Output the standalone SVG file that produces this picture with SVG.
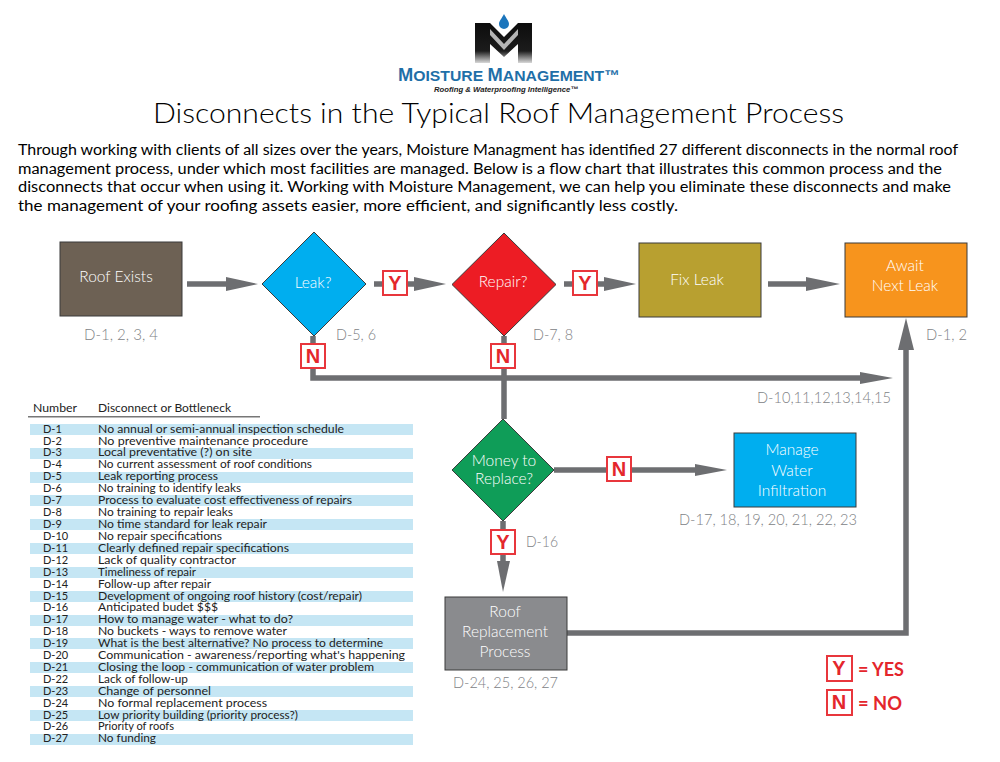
<svg xmlns="http://www.w3.org/2000/svg" width="1000" height="762" viewBox="0 0 1000 762">
<style>
text{font-family:"Lato","Liberation Sans",sans-serif}
.box{stroke:#3a3a3a;stroke-width:1}
.nt{fill:#fff;font-size:15.5px;text-anchor:middle;font-weight:300}
.lb{fill:#808285;font-size:15.5px;font-weight:300}
.p{fill:#000;font-size:15.5px}
.c{fill:none;stroke:#6d6e71;stroke-width:5.500}
.h{fill:#6d6e71}
.t{fill:#222;font-size:11px}
.s{fill:#c5e6f4}
.tag{fill:#fff;stroke:#e8363c;stroke-width:2}
.tt{fill:#e4262c;font-family:"Liberation Sans",sans-serif;font-weight:700;font-size:20px;text-anchor:middle}
</style>
<rect width="1000" height="762" fill="#fff"/>
<g id="logo">
<defs><linearGradient id="lg" x1="0" y1="0" x2="0" y2="1"><stop offset="0" stop-color="#0c0c0c"/><stop offset=".7" stop-color="#1c1c1c"/><stop offset="1" stop-color="#d8d8d8"/></linearGradient></defs>
<path d="M475 23h15l14 14 14-14h14v40h-14V44l-14 13-14-13v19h-15z" fill="url(#lg)"/>
<path d="M490 29l14 15 14-15v6l-14 15-14-15z" fill="#b5b5b5"/>
<path d="M504 14c2 4 5 7 5 10a5 5 0 0 1-10 0c0-3 3-6 5-10z" fill="#1b75bc"/>
<text x="398" y="81" font-size="15.500" font-weight="700" fill="#1f6fa8" textLength="222" lengthAdjust="spacingAndGlyphs" style="font-family:'Liberation Sans',sans-serif"><tspan font-size="18">M</tspan>OISTURE <tspan font-size="18">M</tspan>ANAGEMENT™</text>
<text x="434" y="92" font-size="8" font-weight="700" font-style="italic" fill="#222" textLength="144" lengthAdjust="spacingAndGlyphs" style="font-family:'Liberation Sans',sans-serif">Roofing &amp; Waterproofing Intelligence™</text>
</g>
<text x="153" y="123" font-size="28" font-weight="300" fill="#000" textLength="691" lengthAdjust="spacingAndGlyphs">Disconnects in the Typical Roof Management Process</text>
<g id="intro">
<text class="p" x="18" y="155" textLength="940" lengthAdjust="spacingAndGlyphs">Through working with clients of all sizes over the years, Moisture Managment has identified 27 different disconnects in the normal roof</text>
<text class="p" x="18" y="174" textLength="924" lengthAdjust="spacingAndGlyphs">management process, under which most facilities are managed. Below is a flow chart that illustrates this common process and the</text>
<text class="p" x="18" y="192" textLength="933" lengthAdjust="spacingAndGlyphs">disconnects that occur when using it. Working with Moisture Management, we can help you eliminate these disconnects and make</text>
<text class="p" x="18" y="211" textLength="660" lengthAdjust="spacingAndGlyphs">the management of your roofing assets easier, more efficient, and significantly less costly.</text>
</g>
<g id="connectors">
<path class="c" d="M187 284H228"/><path class="h" d="M226 277L258 284L226 291Z"/>
<path class="c" d="M374 284H416"/><path class="h" d="M414 277L446 284L414 291Z"/>
<path class="c" d="M564 284H606"/><path class="h" d="M604 277L636 284L604 291Z"/>
<path class="c" d="M768 284H808"/><path class="h" d="M806 277L840 284L806 291Z"/>
<path class="c" d="M313 336V378H862"/><path class="h" d="M860 372L893 378L860 384Z"/>
<path class="c" d="M504 336V419"/>
<path class="c" d="M554 470H697"/><path class="h" d="M695 464L727 470L695 476Z"/>
<path class="c" d="M503 521V563"/><path class="h" d="M497 561H510L503 592Z"/>
<path class="c" d="M567 633H906V348"/><path class="h" d="M898 350H914L906 318Z"/>
</g>
<g id="roof-exists"><rect class="box" x="60" y="242" width="122" height="74" fill="#6d6154"/><text class="nt" x="116" y="282">Roof Exists</text></g>
<g id="leak"><path class="box" d="M314 232L366 284L314 336L262 284Z" fill="#00aeef"/><text class="nt" x="313" y="288">Leak?</text></g>
<g id="repair"><path class="box" d="M504 233L556 284.500L504 336L452 284.500Z" fill="#ed1c24"/><text class="nt" x="503" y="287">Repair?</text></g>
<g id="fix-leak"><rect class="box" x="639" y="243" width="122" height="74" fill="#b8a030"/><text class="nt" x="697" y="285">Fix Leak</text></g>
<g id="await"><rect class="box" x="845" y="243" width="122" height="74" fill="#f7941d"/><text class="nt" x="905" y="271">Await</text><text class="nt" x="905" y="291">Next Leak</text></g>
<g id="money"><path class="box" d="M503 419L554 470L503 521L452 470Z" fill="#0f9d58"/><text class="nt" x="504" y="466">Money to</text><text class="nt" x="504" y="484">Replace?</text></g>
<g id="manage"><rect class="box" x="734" y="433" width="122" height="74" fill="#00aeef"/><text class="nt" x="792" y="455">Manage</text><text class="nt" x="792" y="476">Water</text><text class="nt" x="792" y="496">Infiltration</text></g>
<g id="replacement"><rect class="box" x="445" y="597" width="122" height="73" fill="#8a8b8e"/><text class="nt" x="505" y="617">Roof</text><text class="nt" x="505" y="637">Replacement</text><text class="nt" x="505" y="657">Process</text></g>
<g id="labels">
<text class="lb" x="84" y="340" textLength="74" lengthAdjust="spacingAndGlyphs">D-1, 2, 3, 4</text>
<text class="lb" x="336" y="340" textLength="40" lengthAdjust="spacingAndGlyphs">D-5, 6</text>
<text class="lb" x="533" y="340" textLength="40" lengthAdjust="spacingAndGlyphs">D-7, 8</text>
<text class="lb" x="926" y="340" textLength="41" lengthAdjust="spacingAndGlyphs">D-1, 2</text>
<text class="lb" x="757" y="403" textLength="134" lengthAdjust="spacingAndGlyphs">D-10,11,12,13,14,15</text>
<text class="lb" x="679" y="525" textLength="178" lengthAdjust="spacingAndGlyphs">D-17, 18, 19, 20, 21, 22, 23</text>
<text class="lb" x="526" y="547" textLength="32" lengthAdjust="spacingAndGlyphs">D-16</text>
<text class="lb" x="453" y="688" textLength="105" lengthAdjust="spacingAndGlyphs">D-24, 25, 26, 27</text>
</g>
<g id="tags">
<rect class="tag" x="383" y="271" width="24" height="24"/><text class="tt" x="395" y="290">Y</text>
<rect class="tag" x="573" y="271" width="24" height="24"/><text class="tt" x="585" y="290">Y</text>
<rect class="tag" x="301" y="344" width="24" height="24"/><text class="tt" x="313" y="363">N</text>
<rect class="tag" x="491" y="344" width="24" height="24"/><text class="tt" x="503" y="363">N</text>
<rect class="tag" x="607" y="457" width="24" height="24"/><text class="tt" x="619" y="476">N</text>
<rect class="tag" x="491" y="530" width="24" height="24"/><text class="tt" x="503" y="549">Y</text>
</g>
<g id="legend">
<rect class="tag" x="827" y="656" width="25" height="25"/><text class="tt" x="839" y="675">Y</text>
<text x="858" y="676" font-size="18" font-weight="700" fill="#e4262c" textLength="46" lengthAdjust="spacingAndGlyphs">= YES</text>
<rect class="tag" x="827" y="690" width="25" height="25"/><text class="tt" x="839" y="709">N</text>
<text x="858" y="710" font-size="18" font-weight="700" fill="#e4262c" textLength="44" lengthAdjust="spacingAndGlyphs">= NO</text>
</g>
<g id="table">
<text class="t" x="33" y="412" textLength="44" lengthAdjust="spacingAndGlyphs">Number</text>
<text class="t" x="98" y="412" textLength="133" lengthAdjust="spacingAndGlyphs">Disconnect or Bottleneck</text>
<rect x="28" y="416" width="232" height="1.500" fill="#777"/>
<rect class="s" x="30" y="424" width="383" height="11"/><rect class="s" x="30" y="448" width="383" height="11"/><rect class="s" x="30" y="472" width="383" height="11"/><rect class="s" x="30" y="495" width="383" height="11"/><rect class="s" x="30" y="519" width="383" height="11"/><rect class="s" x="30" y="543" width="383" height="11"/><rect class="s" x="30" y="567" width="383" height="11"/><rect class="s" x="30" y="591" width="383" height="11"/><rect class="s" x="30" y="615" width="383" height="11"/><rect class="s" x="30" y="638" width="383" height="11"/><rect class="s" x="30" y="662" width="383" height="11"/><rect class="s" x="30" y="686" width="383" height="11"/><rect class="s" x="30" y="710" width="383" height="11"/><rect class="s" x="30" y="734" width="383" height="11"/>
<text class="t" x="43" y="433">D-1</text><text class="t" x="98" y="433" textLength="246" lengthAdjust="spacingAndGlyphs">No annual or semi-annual inspection schedule</text>
<text class="t" x="43" y="445">D-2</text><text class="t" x="98" y="445" textLength="210" lengthAdjust="spacingAndGlyphs">No preventive maintenance procedure</text>
<text class="t" x="43" y="456">D-3</text><text class="t" x="98" y="456" textLength="154" lengthAdjust="spacingAndGlyphs">Local preventative (?) on site</text>
<text class="t" x="43" y="468">D-4</text><text class="t" x="98" y="468" textLength="214" lengthAdjust="spacingAndGlyphs">No current assessment of roof conditions</text>
<text class="t" x="43" y="480">D-5</text><text class="t" x="98" y="480" textLength="120" lengthAdjust="spacingAndGlyphs">Leak reporting process</text>
<text class="t" x="43" y="492">D-6</text><text class="t" x="98" y="492" textLength="143" lengthAdjust="spacingAndGlyphs">No training to identify leaks</text>
<text class="t" x="43" y="504">D-7</text><text class="t" x="98" y="504" textLength="254" lengthAdjust="spacingAndGlyphs">Process to evaluate cost effectiveness of repairs</text>
<text class="t" x="43" y="516">D-8</text><text class="t" x="98" y="516" textLength="135" lengthAdjust="spacingAndGlyphs">No training to repair leaks</text>
<text class="t" x="43" y="528">D-9</text><text class="t" x="98" y="528" textLength="169" lengthAdjust="spacingAndGlyphs">No time standard for leak repair</text>
<text class="t" x="43" y="540">D-10</text><text class="t" x="98" y="540" textLength="124" lengthAdjust="spacingAndGlyphs">No repair specifications</text>
<text class="t" x="43" y="552">D-11</text><text class="t" x="98" y="552" textLength="191" lengthAdjust="spacingAndGlyphs">Clearly defined repair specifications</text>
<text class="t" x="43" y="564">D-12</text><text class="t" x="98" y="564" textLength="138" lengthAdjust="spacingAndGlyphs">Lack of quality contractor</text>
<text class="t" x="43" y="576">D-13</text><text class="t" x="98" y="576" textLength="98" lengthAdjust="spacingAndGlyphs">Timeliness of repair</text>
<text class="t" x="43" y="588">D-14</text><text class="t" x="98" y="588" textLength="113" lengthAdjust="spacingAndGlyphs">Follow-up after repair</text>
<text class="t" x="43" y="600">D-15</text><text class="t" x="98" y="600" textLength="264" lengthAdjust="spacingAndGlyphs">Development of ongoing roof history (cost/repair)</text>
<text class="t" x="43" y="611">D-16</text><text class="t" x="98" y="611" textLength="120" lengthAdjust="spacingAndGlyphs">Anticipated budet $$$</text>
<text class="t" x="43" y="623">D-17</text><text class="t" x="98" y="623" textLength="195" lengthAdjust="spacingAndGlyphs">How to manage water - what to do?</text>
<text class="t" x="43" y="635">D-18</text><text class="t" x="98" y="635" textLength="189" lengthAdjust="spacingAndGlyphs">No buckets - ways to remove water</text>
<text class="t" x="43" y="647">D-19</text><text class="t" x="98" y="647" textLength="285" lengthAdjust="spacingAndGlyphs">What is the best alternative? No process to determine</text>
<text class="t" x="43" y="659">D-20</text><text class="t" x="98" y="659" textLength="307" lengthAdjust="spacingAndGlyphs">Communication - awareness/reporting what's happening</text>
<text class="t" x="43" y="671">D-21</text><text class="t" x="98" y="671" textLength="276" lengthAdjust="spacingAndGlyphs">Closing the loop - communication of water problem</text>
<text class="t" x="43" y="683">D-22</text><text class="t" x="98" y="683" textLength="90" lengthAdjust="spacingAndGlyphs">Lack of follow-up</text>
<text class="t" x="43" y="695">D-23</text><text class="t" x="98" y="695" textLength="113" lengthAdjust="spacingAndGlyphs">Change of personnel</text>
<text class="t" x="43" y="707">D-24</text><text class="t" x="98" y="707" textLength="169" lengthAdjust="spacingAndGlyphs">No formal replacement process</text>
<text class="t" x="43" y="719">D-25</text><text class="t" x="98" y="719" textLength="200" lengthAdjust="spacingAndGlyphs">Low priority building (priority process?)</text>
<text class="t" x="43" y="730">D-26</text><text class="t" x="98" y="730" textLength="76" lengthAdjust="spacingAndGlyphs">Priority of roofs</text>
<text class="t" x="43" y="742">D-27</text><text class="t" x="98" y="742" textLength="58" lengthAdjust="spacingAndGlyphs">No funding</text>
</g>
</svg>
